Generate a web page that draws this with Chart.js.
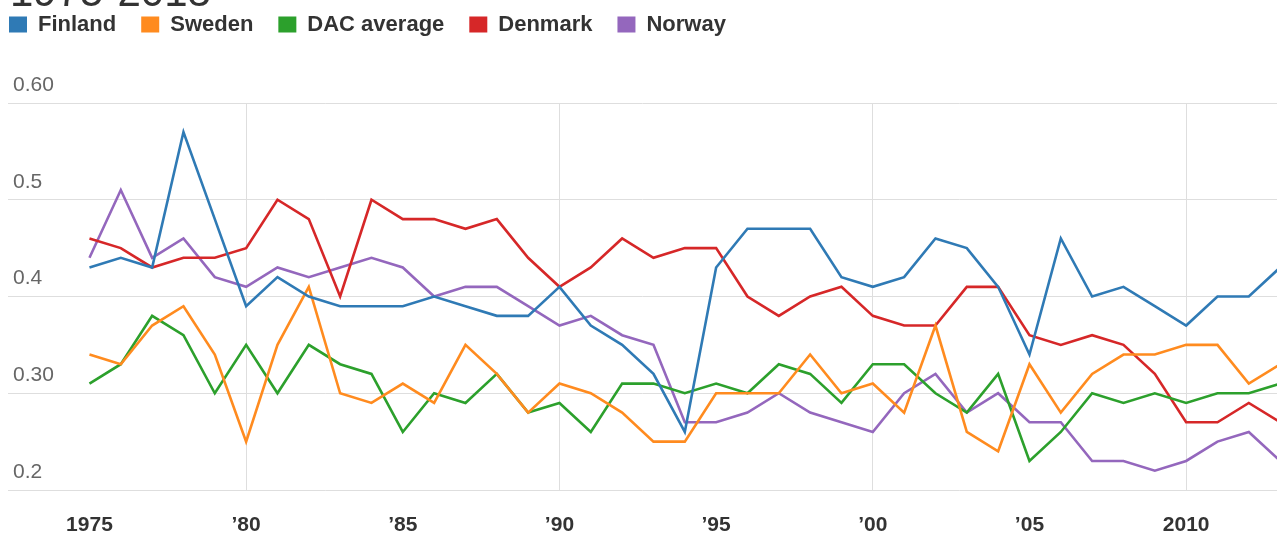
<!DOCTYPE html>
<html>
<head>
<meta charset="utf-8">
<script src="https://cdn.jsdelivr.net/npm/chart.js@4/dist/chart.umd.min.js"></script>
<style>
  html, body { margin: 0; padding: 0; background: #fff; }
  #wrap { position: relative; width: 1277px; height: 536px; }
</style>
</head>
<body>
<div id="wrap"><canvas id="c"></canvas></div>
<script>
const titleText = '1975-2013';
const years = [1975,1976,1977,1978,1979,1980,1981,1982,1983,1984,1985,1986,1987,1988,1989,1990,1991,1992,1993,1994,1995,1996,1997,1998,1999,2000,2001,2002,2003,2004,2005,2006,2007,2008,2009,2010,2011,2012,2013];
const finland = [.43,.44,.43,.57,.48,.39,.42,.40,.39,.39,.39,.40,.39,.38,.38,.41,.37,.35,.32,.26,.43,.47,.47,.47,.42,.41,.42,.46,.45,.41,.34,.46,.40,.41,.39,.37,.40,.40,.43];
const sweden = [.34,.33,.37,.39,.34,.25,.35,.41,.30,.29,.31,.29,.35,.32,.28,.31,.30,.28,.25,.25,.30,.30,.30,.34,.30,.31,.28,.37,.26,.24,.33,.28,.32,.34,.34,.35,.35,.31,.33];
const dacAverage = [.31,.33,.38,.36,.30,.35,.30,.35,.33,.32,.26,.30,.29,.32,.28,.29,.26,.31,.31,.30,.31,.30,.33,.32,.29,.33,.33,.30,.28,.32,.23,.26,.30,.29,.30,.29,.30,.30,.31];
const denmark = [.46,.45,.43,.44,.44,.45,.50,.48,.40,.50,.48,.48,.47,.48,.44,.41,.43,.46,.44,.45,.45,.40,.38,.40,.41,.38,.37,.37,.41,.41,.36,.35,.36,.35,.32,.27,.27,.29,.27];
const norway = [.44,.51,.44,.46,.42,.41,.43,.42,.43,.44,.43,.40,.41,.41,.39,.37,.38,.36,.35,.27,.27,.28,.30,.28,.27,.26,.30,.32,.28,.30,.27,.27,.23,.23,.22,.23,.25,.26,.23];
const seriesNames = ['Finland','Sweden','DAC average','Denmark','Norway'];
const seriesColors = ['#2f7ab5','#ff8b1f','#2ca02c','#d62728','#9467bd'];
const xTickValues = [1975,1980,1985,1990,1995,2000,2005,2010];
const xTickLabels = ['1975','’80','’85','’90','’95','’00','’05','2010'];
const yTickValues = [0.2,0.3,0.4,0.5,0.6];
const yTickLabels = ['0.2','0.30','0.4','0.5','0.60'];

const FONT = '"Liberation Sans", Arial, Helvetica, sans-serif';
const seriesData = [finland, sweden, dacAverage, denmark, norway];

const datasets = seriesNames.map((name, i) => ({
  label: name,
  data: years.map((y, j) => ({x: y, y: seriesData[i][j]})),
  borderColor: seriesColors[i],
  backgroundColor: seriesColors[i],
  borderWidth: 2.6,
  pointRadius: 0,
  pointHoverRadius: 0,
  tension: 0,
  fill: false
}));

const titlePlugin = {
  id: 'croppedTitle',
  afterDraw(chart) {
    const ctx = chart.ctx;
    ctx.save();
    ctx.font = '42px ' + FONT;
    ctx.fillStyle = '#333';
    ctx.textBaseline = 'alphabetic';
    ctx.textAlign = 'left';
    ctx.fillText(titleText, 10, 6);
    ctx.restore();
  }
};

new Chart(document.getElementById('c'), {
  type: 'line',
  data: { datasets },
  plugins: [titlePlugin],
  options: {
    responsive: true,
    maintainAspectRatio: false,
    animation: false,
    layout: { padding: { left: -16, top: -11.5, right: 0, bottom: 0 } },
    plugins: {
      tooltip: { enabled: false },
      legend: {
        position: 'top',
        align: 'start',
        labels: {
          boxWidth: 18,
          boxHeight: 16,
          padding: 25,
          color: '#333',
          font: { family: FONT, size: 22, weight: 'bold' },
          generateLabels(chart) {
            const items = Chart.defaults.plugins.legend.labels.generateLabels(chart);
            items.forEach(it => { it.lineWidth = 0; it.strokeStyle = 'rgba(0,0,0,0)'; });
            return items;
          }
        }
      },
      subtitle: {
        display: true,
        text: '',
        weight: 500,
        font: { size: 10, lineHeight: 1 },
        padding: { top: 47.5, bottom: 0 }
      }
    },
    scales: {
      x: {
        type: 'linear',
        min: 1972.4,
        max: 2012.9,
        afterBuildTicks(axis) { axis.ticks = xTickValues.map(v => ({ value: v })); },
        afterFit(axis) { axis.height = 46; },
        border: { display: false },
        grid: {
          drawTicks: false,
          lineWidth: 1,
          color(ctx) {
            return (ctx.tick && ctx.tick.value % 10 === 0) ? '#dedede' : 'rgba(0,0,0,0)';
          }
        },
        ticks: {
          autoSkip: false,
          maxRotation: 0,
          padding: 22.4,
          color: '#333',
          font: { family: FONT, size: 21, weight: 'bold', lineHeight: 1.2 },
          callback(value, index) { return xTickLabels[index]; }
        }
      },
      y: {
        type: 'linear',
        position: 'left',
        min: 0.2,
        max: 0.6,
        afterBuildTicks(axis) { axis.ticks = yTickValues.map(v => ({ value: v })); },
        afterFit(axis) { axis.width = 24; },
        border: { display: false },
        grid: { drawTicks: false, color: '#dedede', lineWidth: 1 },
        ticks: {
          mirror: true,
          padding: 5,
          labelOffset: -18,
          color: '#666',
          font: { family: FONT, size: 21 },
          callback(value, index) { return yTickLabels[index]; }
        }
      }
    }
  }
});
</script>
</body>
</html>
